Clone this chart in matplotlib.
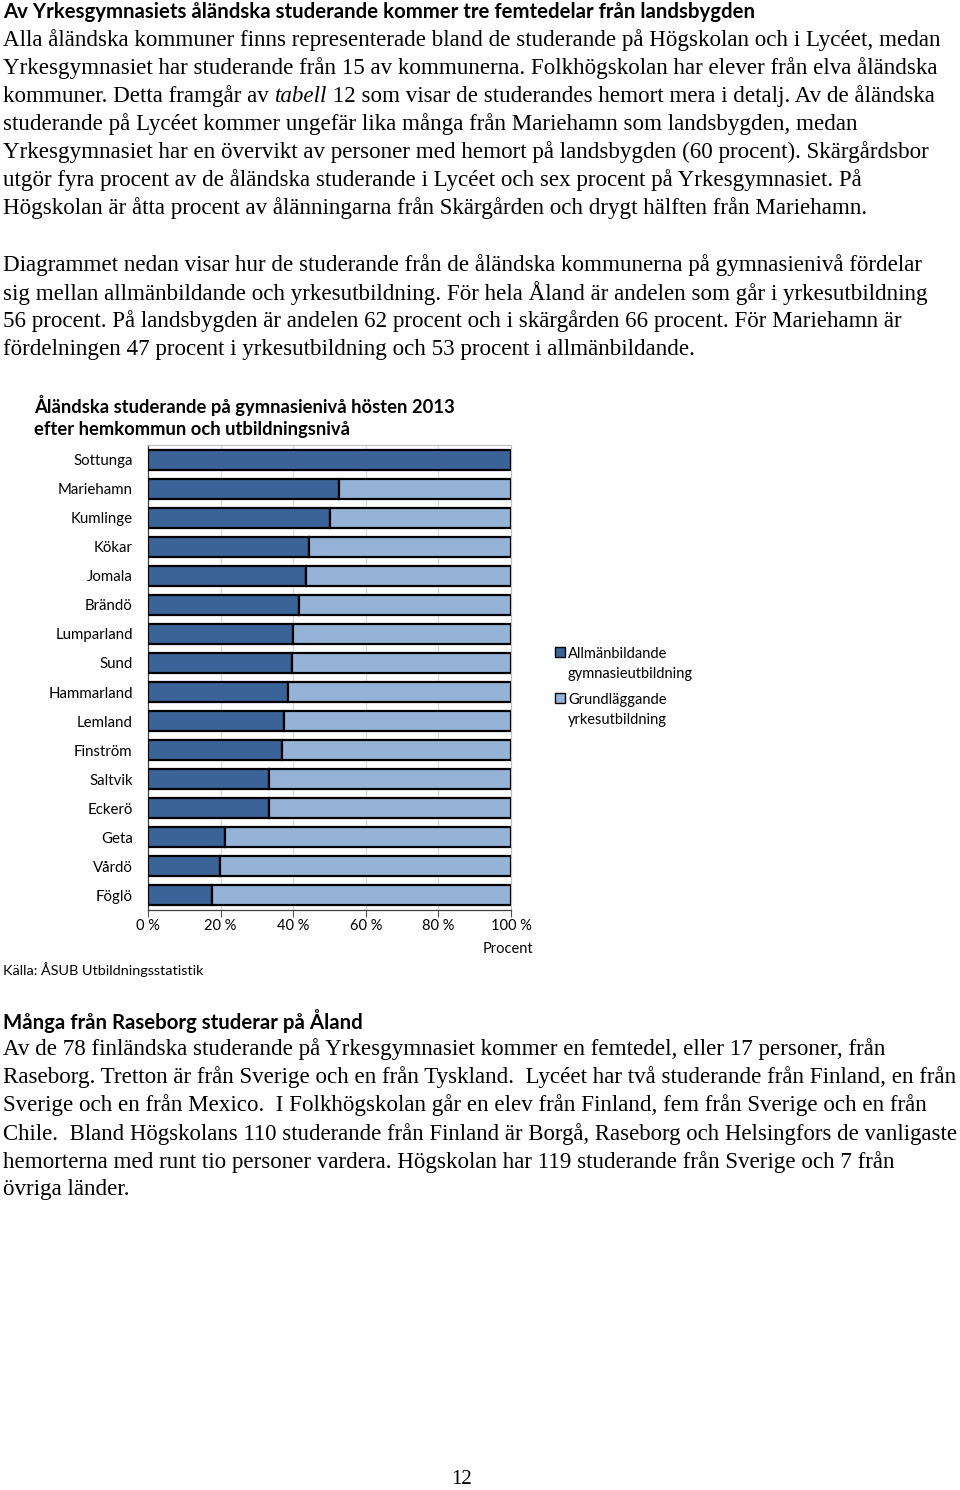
import matplotlib
matplotlib.use("Agg")
import matplotlib.pyplot as plt
from matplotlib.patches import Rectangle

W, H = 960, 1490
DPI = 100

categories = ['Sottunga', 'Mariehamn', 'Kumlinge', 'Kökar', 'Jomala', 'Brändö',
              'Lumparland', 'Sund', 'Hammarland', 'Lemland', 'Finström', 'Saltvik',
              'Eckerö', 'Geta', 'Vårdö', 'Föglö']
allman = [100.0, 52.6, 50.0, 44.4, 43.4, 41.6, 40.0, 39.6, 38.6, 37.4, 36.9, 33.3,
          33.3, 21.3, 19.8, 17.5]
yrke = [0.0, 47.4, 50.0, 55.6, 56.6, 58.4, 60.0, 60.4, 61.4, 62.6, 63.1, 66.7,
        66.7, 78.7, 80.2, 82.5]
series_names = ['Allmänbildande\ngymnasieutbildning', 'Grundläggande\nyrkesutbildning']
xticks = [0, 20, 40, 60, 80, 100]
xtick_labels = ['0 %', '20 %', '40 %', '60 %', '80 %', '100 %']

DARK = '#3A6497'
LIGHT = '#95B3D7'
SERIF = 'Liberation Serif'
SANS = 'Lato'
BODY = 16.6
MAXX = 956

fig = plt.figure(figsize=(W / DPI, H / DPI), dpi=DPI)
fig.patch.set_facecolor('white')
renderer = fig.canvas.get_renderer()


def fy(y):
    return 1 - y / H


def line(x, y, segments, size=BODY, family=SERIF, weight='normal'):
    xp = x
    texts = []
    for txt, style in segments:
        t = fig.text(xp / W, fy(y), txt, fontsize=size, family=family,
                     style=style, weight=weight, va='center', ha='left')
        bb = t.get_window_extent(renderer)
        xp = bb.x1
        texts.append(t)
    if xp > MAXX and len(texts) == 1:
        texts[0].set_fontsize(size * (MAXX - x) / (xp - x))


# Top heading and paragraph
fig.text(3 / W, fy(12), 'Av Yrkesgymnasiets åländska studerande kommer tre femtedelar från landsbygden',
         fontsize=14.7, family=SANS, weight='bold', va='center', ha='left')
para1 = [
    [('Alla åländska kommuner finns representerade bland de studerande på Högskolan och i Lycéet, medan', 'normal')],
    [('Yrkesgymnasiet har studerande från 15 av kommunerna. Folkhögskolan har elever från elva åländska', 'normal')],
    [('kommuner. Detta framgår av ', 'normal'), ('tabell', 'italic'), (' 12 som visar de studerandes hemort mera i detalj. Av de åländska', 'normal')],
    [('studerande på Lycéet kommer ungefär lika många från Mariehamn som landsbygden, medan', 'normal')],
    [('Yrkesgymnasiet har en övervikt av personer med hemort på landsbygden (60 procent). Skärgårdsbor', 'normal')],
    [('utgör fyra procent av de åländska studerande i Lycéet och sex procent på Yrkesgymnasiet. På', 'normal')],
    [('Högskolan är åtta procent av ålänningarna från Skärgården och drygt hälften från Mariehamn.', 'normal')],
]
for i, segs in enumerate(para1):
    line(3, 40 + 28 * i, segs)

para2 = [
    'Diagrammet nedan visar hur de studerande från de åländska kommunerna på gymnasienivå fördelar',
    'sig mellan allmänbildande och yrkesutbildning. För hela Åland är andelen som går i yrkesutbildning',
    '56 procent. På landsbygden är andelen 62 procent och i skärgården 66 procent. För Mariehamn är',
    'fördelningen 47 procent i yrkesutbildning och 53 procent i allmänbildande.',
]
for i, s in enumerate(para2):
    line(3, 265 + 28 * i, [(s, 'normal')])

# Chart title
fig.text(34 / W, fy(405), 'Åländska studerande på gymnasienivå hösten 2013',
         fontsize=13.2, family=SANS, weight='bold', va='center', ha='left')
fig.text(34 / W, fy(430), 'efter hemkommun och utbildningsnivå',
         fontsize=13.2, family=SANS, weight='bold', va='center', ha='left')

# Chart axes
left, right, top, bottom = 148, 511, 445, 910
ax = fig.add_axes([left / W, 1 - bottom / H, (right - left) / W, (bottom - top) / H])
ypos = list(range(len(categories)))
ax.barh(ypos, allman, height=0.69, color=DARK, edgecolor='black', linewidth=1.6,
        label=series_names[0], zorder=3)
ax.barh(ypos, yrke, left=allman, height=0.69, color=LIGHT, edgecolor='black',
        linewidth=1.6, label=series_names[1], zorder=3)
ax.set_xlim(0, 100)
ax.set_ylim(len(categories) - 0.5, -0.5)
ax.set_yticks(ypos)
ax.set_yticklabels(categories, fontsize=10.8, family=SANS)
ax.set_xticks(xticks)
ax.set_xticklabels(xtick_labels, fontsize=10.5, family=SANS)
ax.tick_params(axis='y', length=0, pad=11)
ax.tick_params(axis='x', length=5, width=0.8, direction='out', pad=1.5, color='#555555')
ax.grid(axis='x', color='#D9D9D9', linewidth=0.8, zorder=0)
for s in ['top', 'right']:
    ax.spines[s].set_color('#BFBFBF')
    ax.spines[s].set_linewidth(0.8)
for s in ['left', 'bottom']:
    ax.spines[s].set_color('#404040')
    ax.spines[s].set_linewidth(0.9)

fig.text(508 / W, fy(949), 'Procent', fontsize=10.5, family=SANS, va='center', ha='center')
fig.text(3 / W, fy(970), 'Källa: ÅSUB Utbildningsstatistik', fontsize=10.4, family=SANS,
         va='center', ha='left')

# Legend (manual, square aligned with first text line)
leg_colors = [DARK, LIGHT]
leg_y = [652, 698]
for c, yy, name in zip(leg_colors, leg_y, series_names):
    fig.add_artist(Rectangle((555 / W, fy(yy + 5)), 10 / W, 10 / H, facecolor=c,
                             edgecolor='black', linewidth=1.0, transform=fig.transFigure))
    fig.text(568 / W, fy(yy - 5), name, fontsize=10.5, family=SANS, va='top', ha='left',
             linespacing=1.55)

# Lower section
fig.text(3 / W, fy(1021), 'Många från Raseborg studerar på Åland',
         fontsize=14.7, family=SANS, weight='bold', va='center', ha='left')
para3 = [
    'Av de 78 finländska studerande på Yrkesgymnasiet kommer en femtedel, eller 17 personer, från',
    'Raseborg. Tretton är från Sverige och en från Tyskland.  Lycéet har två studerande från Finland, en från',
    'Sverige och en från Mexico.  I Folkhögskolan går en elev från Finland, fem från Sverige och en från',
    'Chile.  Bland Högskolans 110 studerande från Finland är Borgå, Raseborg och Helsingfors de vanligaste',
    'hemorterna med runt tio personer vardera. Högskolan har 119 studerande från Sverige och 7 från',
    'övriga länder.',
]
for i, s in enumerate(para3):
    line(3, 1049 + 28.2 * i, [(s, 'normal')])

fig.text(462 / W, fy(1480), '12', fontsize=15, family=SERIF, va='center', ha='center')

fig.savefig('out.png', dpi=DPI, facecolor='white')
